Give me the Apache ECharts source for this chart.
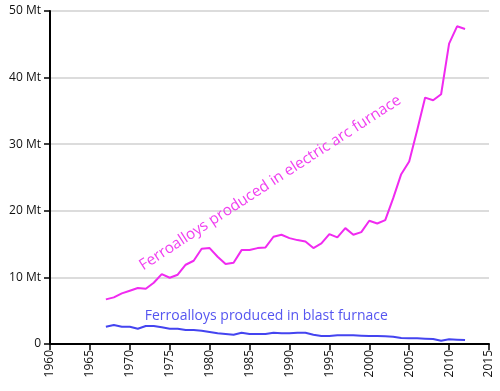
<!DOCTYPE html>
<html><head><meta charset="utf-8">
<script src="https://cdn.jsdelivr.net/npm/echarts@6/dist/echarts.min.js"></script>
<style>html,body{margin:0;padding:0;background:#fff}#c{width:500px;height:391px}</style>
</head><body><div id="c"></div>
<script>
const years = [1967,1968,1969,1970,1971,1972,1973,1974,1975,1976,1977,1978,1979,1980,1981,1982,1983,1984,1985,1986,1987,1988,1989,1990,1991,1992,1993,1994,1995,1996,1997,1998,1999,2000,2001,2002,2003,2004,2005,2006,2007,2008,2009,2010,2011,2012];
const electricArc = [6.7,7.0,7.6,8.0,8.4,8.3,9.2,10.5,9.95,10.4,11.9,12.5,14.3,14.4,13.1,12.0,12.2,14.1,14.1,14.4,14.5,16.1,16.4,15.9,15.6,15.4,14.4,15.1,16.5,16.0,17.4,16.4,16.8,18.5,18.1,18.6,21.9,25.5,27.4,32.1,37.0,36.6,37.5,45.1,47.7,47.3];
const blastFurnace = [2.6,2.85,2.6,2.6,2.3,2.7,2.7,2.5,2.3,2.3,2.1,2.1,2.0,1.8,1.6,1.5,1.4,1.7,1.5,1.5,1.5,1.7,1.6,1.6,1.7,1.7,1.4,1.2,1.2,1.3,1.3,1.3,1.25,1.2,1.2,1.15,1.1,0.9,0.85,0.85,0.8,0.75,0.5,0.7,0.65,0.6];
const xTicks = [1960,1965,1970,1975,1980,1985,1990,1995,2000,2005,2010,2015];
const yTicks = [0,10,20,30,40,50];
const labelEA = "Ferroalloys produced in electric arc furnace";
const labelBF = "Ferroalloys produced in blast furnace";
const colEA = '#f02af0', colBF = '#4444f0';
const font = '"Open Sans", "DejaVu Sans", sans-serif';

const chart = echarts.init(document.getElementById('c'), null, {renderer:'canvas'});
chart.setOption({
  animation:false,
  grid:{left:50,right:11,top:11,bottom:47},
  xAxis:{type:'value',min:xTicks[0],max:xTicks[xTicks.length-1],interval:5,
    axisLine:{show:true,onZero:false,lineStyle:{color:'#000',width:2}},
    axisTick:{show:true,length:6,lineStyle:{color:'#000',width:1.5}},
    splitLine:{show:false},
    axisLabel:{rotate:90,color:'#111',fontFamily:font,fontSize:12,margin:6,formatter:v=>String(v)}},
  yAxis:{type:'value',min:yTicks[0],max:yTicks[yTicks.length-1],interval:10,
    axisLine:{show:true,lineStyle:{color:'#000',width:2}},
    axisTick:{show:true,length:6,lineStyle:{color:'#000',width:1.5}},
    splitLine:{show:true,lineStyle:{color:'#d0d0d0',width:1.5}},
    axisLabel:{color:'#111',fontFamily:font,fontSize:12,margin:9,formatter:v=>v===0?'0':v+' Mt'}},
  series:[
    {type:'line',data:years.map((y,i)=>[y,electricArc[i]]),showSymbol:false,lineStyle:{color:colEA,width:2},itemStyle:{color:colEA}},
    {type:'line',data:years.map((y,i)=>[y,blastFurnace[i]]),showSymbol:false,lineStyle:{color:colBF,width:2},itemStyle:{color:colBF}}
  ]
});
const pEA = chart.convertToPixel({gridIndex:0},[1987.6,24.2]);
const pBF = chart.convertToPixel({gridIndex:0},[1987.1,4.2]);
chart.setOption({graphic:[
  {type:'text',x:pEA[0],y:pEA[1],rotation:33*Math.PI/180,style:{text:labelEA,fill:'#f040f0',font:'15.3px '+font,align:'center',verticalAlign:'middle'}},
  {type:'text',x:pBF[0],y:pBF[1],style:{text:labelBF,fill:'#5555f0',font:'14px '+font,align:'center',verticalAlign:'middle'}}
]});
</script></body></html>
